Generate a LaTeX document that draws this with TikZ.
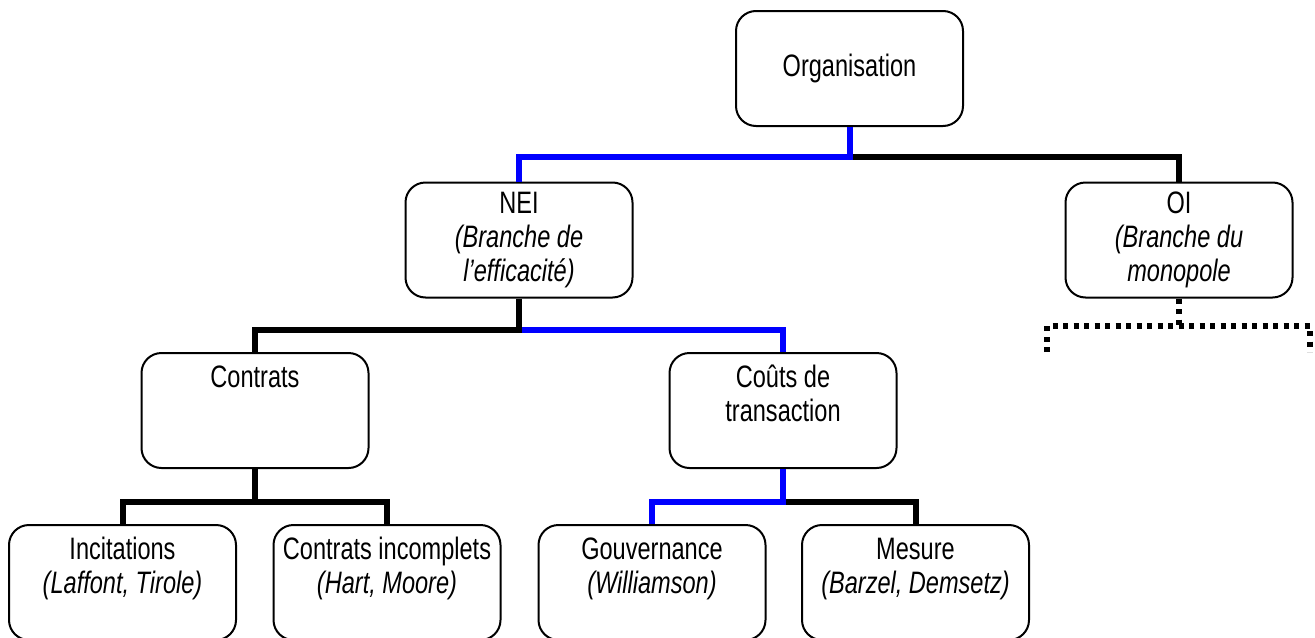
\documentclass[tikz,border=0pt]{standalone}
\usepackage{fontspec}
\setmainfont{Liberation Sans}[FakeStretch=0.76]
\usepackage{tikz}

\newcommand{\toplines}[1]{\parbox[c][57.5pt][t]{113pt}{\centering\vspace*{5.4pt}\strut #1}}

\begin{document}
\begin{tikzpicture}[x=0.5pt, y=-0.5pt,
	box/.style={draw, rounded corners=10pt, line width=1pt, minimum width=113.5pt, minimum height=57.5pt, inner sep=0pt, align=center, font=\fontsize{15.5}{17}\selectfont},
	link/.style={line width=3pt},
	bluelink/.style={link, color=blue},
	dotlink/.style={link, dash pattern=on 2.5pt off 2.75pt}]
		\useasboundingbox (0,0) rectangle (1315,637);

		\node (org) [box] at (849.5,68.5) {Organisation};
		\node (nei) [box] at (519,240) {NEI\\\textit{(Branche de}\\\textit{l’efficacité)}};
		\node (oi) [box] at (1179,240) {OI\\\textit{(Branche du}\\\textit{monopole}};

		\node (contrats) [box] at (255,410.5) {\toplines{Contrats}};
		\node (couts) [box] at (783,410.5) {\toplines{Coûts de\\transaction}};

		\node (incit) [box] at (122.5,582.5) {\toplines{Incitations\\\textit{(Laffont, Tirole)}}};
		\node (incomp) [box] at (387,582.5) {\toplines{Contrats incomplets\\\textit{(Hart, Moore)}}};
		\node (gouv) [box] at (652,582.5) {\toplines{Gouvernance\\\textit{(Williamson)}}};
		\node (mesure) [box] at (915.5,582.5) {\toplines{Mesure\\\textit{(Barzel, Demsetz)}}};

		\coordinate (orgfork) at (849.5,157);
		\coordinate (neifork) at (519,330);
		\coordinate (contratsfork) at (255,502);
		\coordinate (coutsfork) at (783,502);
		\coordinate (oifork) at (1179,326);
		\coordinate (oileft) at (1047,352);
		\coordinate (oiright) at (1310,352);

		% top level
		\draw[link] (orgfork) -| (oi.north);
		\draw[bluelink] (org.south) -- (orgfork) -| (nei.north);

		% NEI
		\draw[bluelink] (neifork) -| (couts.north);
		\draw[link] (nei.south) -- (neifork) -| (contrats.north);

		% Contrats / Couts
		\draw[link] (contrats.south) -- (contratsfork) -| (incit.north);
		\draw[link] (contratsfork) -| (incomp.north);
		\draw[link] (coutsfork) -| (mesure.north);
		\draw[bluelink] (couts.south) -- (coutsfork) -| (gouv.north);

		% OI, not developed
		\draw[dotlink] (oi.south) -- (oifork);
		\draw[dotlink] (oileft) |- (oifork) -| (oiright);

	\end{tikzpicture}
\end{document}
